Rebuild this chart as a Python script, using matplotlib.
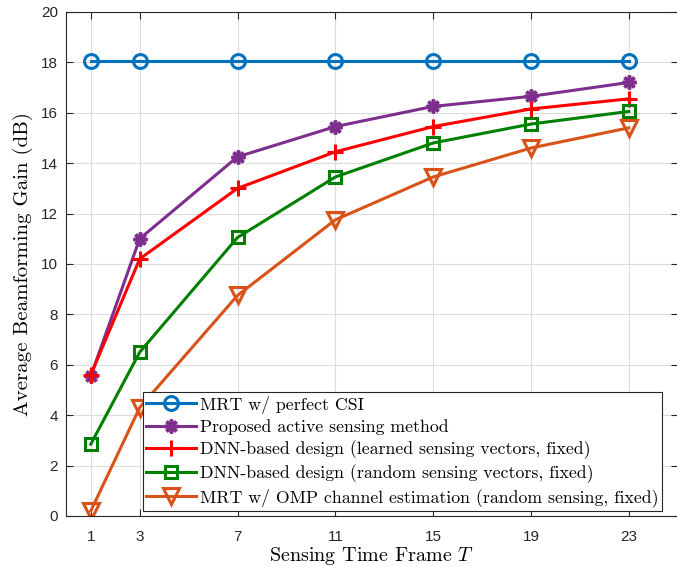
import matplotlib
matplotlib.use("Agg")
import matplotlib.pyplot as plt

plt.rcParams['mathtext.fontset'] = 'cm'

# Data
T = [1, 3, 7, 11, 15, 19, 23]
mrt_perfect = [18.05, 18.05, 18.05, 18.05, 18.05, 18.05, 18.05]
proposed = [5.55, 11.0, 14.25, 15.45, 16.25, 16.65, 17.2]
dnn_learned = [5.6, 10.2, 13.0, 14.45, 15.45, 16.15, 16.55]
dnn_random = [2.85, 6.5, 11.05, 13.45, 14.8, 15.55, 16.05]
mrt_omp = [0.2, 4.3, 8.75, 11.75, 13.45, 14.6, 15.4]

labels = ['MRT w/ perfect CSI',
          'Proposed active sensing method',
          'DNN-based design (learned sensing vectors, fixed)',
          'DNN-based design (random sensing vectors, fixed)',
          'MRT w/ OMP channel estimation (random sensing, fixed)']

fig = plt.figure(figsize=(6.77, 5.67), dpi=100)
ax = fig.add_axes([0.098, 0.09, 0.903, 0.889])

lw = 2.2
ax.plot(T, mrt_perfect, color='#0072BD', lw=lw, marker='o', ms=10,
        mfc='none', mew=2.2, label=labels[0])
ax.plot(T, proposed, color='#7E2F8E', lw=lw, marker=(8, 2, 0), ms=10,
        mew=2.5, label=labels[1])
ax.plot(T, dnn_learned, color='#FF0000', lw=lw, marker='+', ms=12,
        mew=2.2, label=labels[2])
ax.plot(T, dnn_random, color='#008000', lw=lw, marker='s', ms=8,
        mfc='none', mew=2.2, label=labels[3])
ax.plot(T, mrt_omp, color='#D95319', lw=lw, marker='v', ms=12,
        mfc='none', mew=2.2, label=labels[4])

ax.set_xlim(0, 25)
ax.set_ylim(0, 20)
ax.set_xticks(T)
ax.set_yticks(range(0, 21, 2))
ax.grid(True, color='#dcdcdc', lw=0.8)
ax.set_axisbelow(True)
ax.tick_params(direction='in', top=True, right=True, labelsize=11,
               length=5, width=0.8, colors='#262626', pad=6)
ax.tick_params(axis='x', pad=10)
for lab in ax.get_xticklabels() + ax.get_yticklabels():
    lab.set_family('Liberation Sans')
for s in ax.spines.values():
    s.set_color('#262626')
    s.set_linewidth(0.8)

ax.set_xlabel('Sensing Time Frame $T$', family='cmr10', fontsize=14.5,
              labelpad=1)
ax.set_ylabel('Average Beamforming Gain (dB)', family='cmr10', fontsize=15,
              labelpad=6)

leg = ax.legend(loc='lower right', bbox_to_anchor=(0.983, 0.0),
                prop={'family': 'cmr10', 'size': 12.8},
                fancybox=False, framealpha=1, edgecolor='#262626',
                handlelength=2.8, handletextpad=0.2, borderpad=0.2,
                labelspacing=0.3, borderaxespad=0.3)
leg.get_frame().set_linewidth(0.8)

fig.savefig('out.png', dpi=100)
